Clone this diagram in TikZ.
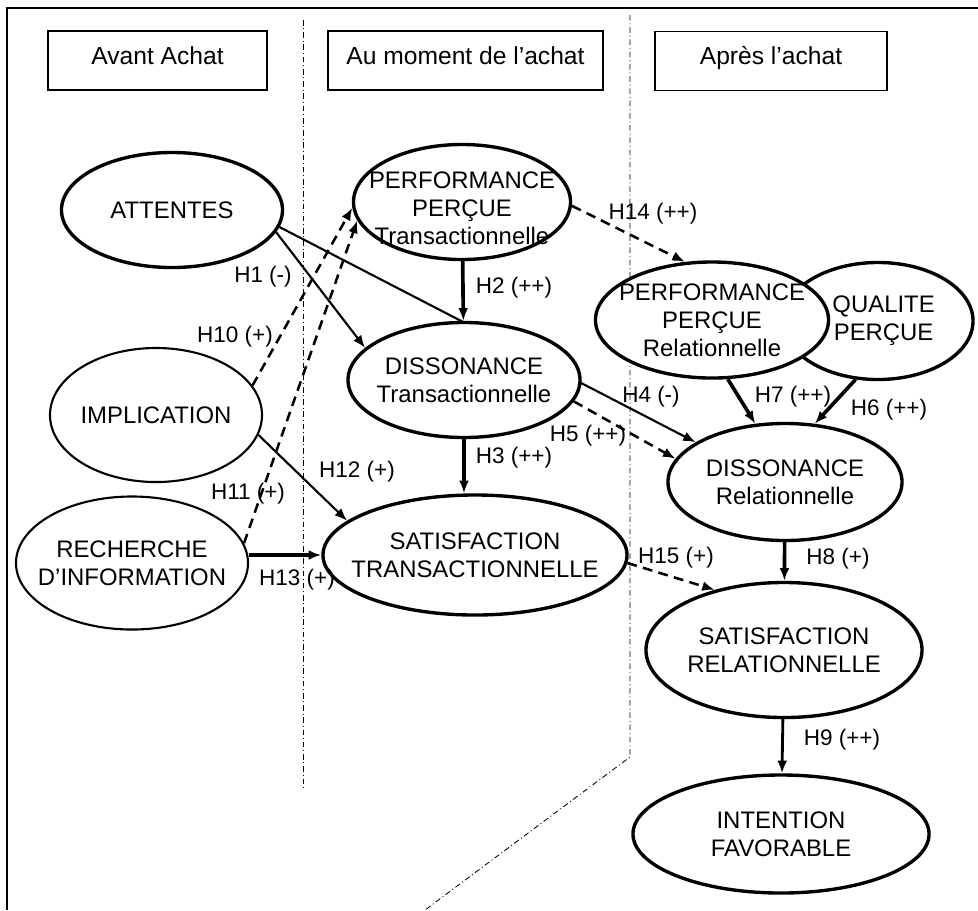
\documentclass[tikz,border=0pt]{standalone}
\usepackage{fontspec}
\setmainfont{Liberation Sans}
\usetikzlibrary{shapes.geometric,arrows.meta}
\pgfdeclarelayer{background}
\pgfsetlayers{background,main}

\tikzset{
  etat/.style={draw,ellipse,fill=white,line width=2.4pt,inner sep=-30pt,align=center,
    font=\fontsize{17}{20}\selectfont},
  etatfin/.style={etat,line width=1.5pt},
  periode/.style={draw,rectangle,fill=white,line width=0.8pt,minimum height=1.475cm,
    text height=0.75em,text depth=0.25em,font=\fontsize{17.5}{20}\selectfont},
  lien/.style={->,line width=1.5pt},
  lienfort/.style={->,line width=2.6pt},
  lienpointille/.style={->,line width=1.8pt,dash pattern=on 7pt off 4.5pt},
  hyp/.style={font=\fontsize{16}{18}\selectfont,inner sep=0pt},
  limite/.style={line width=0.6pt,dash pattern=on 4pt off 2pt on 0.7pt off 2pt}
}

\begin{document}
\begin{tikzpicture}[x=0.025cm,y=-0.025cm,>={Latex[length=9pt,width=7pt]}]
  \useasboundingbox (0,0) rectangle (978,910);

  % cadre et separations des periodes
  \draw[line width=1.2pt] (978,8) -- (7,8) -- (7,910);
  \draw[limite] (303,20) -- (303,787);
  \draw[limite] (630,15) -- (630,757) -- (425,910);

  \node[periode,minimum width=5.475cm] (avant) at (157.5,60.5) {Avant Achat};
  \node[periode,minimum width=6.875cm] (pendant) at (465.5,60.5) {Au moment de l'achat};
  \node[periode,minimum width=5.8cm] (apres) at (771,61) {Après l'achat};

  % avant achat
  \node[etat,minimum width=5.525cm,minimum height=2.875cm] (att) at (172,210) {ATTENTES};
  \node[etatfin,minimum width=5.3cm,minimum height=3.35cm] (impl) at (156,415) {IMPLICATION};
  \node[etatfin,minimum width=5.8cm,minimum height=3.325cm] (rech) at (132,563) {RECHERCHE\\D'INFORMATION};

  % au moment de l'achat
  \node[etat,minimum width=5.425cm,minimum height=2.875cm,text height=61pt] (ppt) at (462,202) {PERFORMANCE\\PERÇUE\\Transactionnelle};
  \node[etat,minimum width=5.8cm,minimum height=2.875cm] (dt) at (464,380) {DISSONANCE\\Transactionnelle};
  \node[etat,minimum width=7.6cm,minimum height=3cm] (st) at (475,555) {SATISFACTION\\TRANSACTIONNELLE};

  % apres l'achat
  \node[etat,minimum width=4.75cm,minimum height=2.925cm] (qp) at (878,321) {\hspace*{8pt}QUALITE\\\hspace*{8pt}PERÇUE};
  \node[etat,minimum width=5.825cm,minimum height=2.9cm] (ppr) at (712,320) {PERFORMANCE\\PERÇUE\\Relationnelle};
  \node[etat,minimum width=5.85cm,minimum height=2.925cm] (dr) at (785,482) {DISSONANCE\\Relationnelle};
  \node[etat,minimum width=6.9cm,minimum height=3.375cm] (sr) at (784,650) {SATISFACTION\\RELATIONNELLE};
  \node[etat,minimum width=7.4cm,minimum height=2.95cm] (intf) at (781,834) {INTENTION\\FAVORABLE};

  % hypotheses
  \draw[lien] (att.-12) -- (dt.162);
  \begin{pgfonlayer}{background}
    \draw[lien] (att.-9) -- (dr.156);
  \end{pgfonlayer}
  \draw[lienfort] (ppt) -- (dt);
  \draw[lienfort] (dt.south) -- (dt.south |- st.north);
  \draw[lienpointille] (dt.-11) -- (dr.168);
  \draw[lienfort] (qp.-111) -- (dr.63);
  \draw[lienfort] (ppr.-75) -- (dr.117);
  \draw[lienfort] (dr) -- (sr);
  \draw[lienfort,line width=2pt] (sr) -- (intf);
  \draw[lienpointille] (impl.17) -- (ppt.-177);
  \draw[lienpointille] (rech.10) -- (ppt.-170);
  \draw[lien] (impl.-11) -- (st.165);
  \draw[lienfort,line width=2.2pt] (rech.east |- st) -- (st.west);
  \draw[lienpointille] (ppt.-2) -- (ppr.115);
  \draw[lienpointille] (st.-3) -- (sr.139);

  \node[hyp] (h1) at (263,277) {H1 (-)};
  \node[hyp] (h2) at (514,288) {H2 (++)};
  \node[hyp] (h3) at (514,458) {H3 (++)};
  \node[hyp] (h4) at (651,397) {H4 (-)};
  \node[hyp] (h5) at (588,436) {H5 (++)};
  \node[hyp] (h6) at (889,410) {H6 (++)};
  \node[hyp] (h7) at (793,397) {H7 (++)};
  \node[hyp] (h8) at (838,559) {H8 (+)};
  \node[hyp] (h9) at (842,740) {H9 (++)};
  \node[hyp] (h10) at (235,337) {H10 (+)};
  \node[hyp] (h11) at (248,494) {H11 (+)};
  \node[hyp] (h12) at (357,472) {H12 (+)};
  \node[hyp] (h13) at (297,580) {H13 (+)};
  \node[hyp] (h14) at (653,214) {H14 (++)};
  \node[hyp] (h15) at (676,558) {H15 (+)};
\end{tikzpicture}
\end{document}
